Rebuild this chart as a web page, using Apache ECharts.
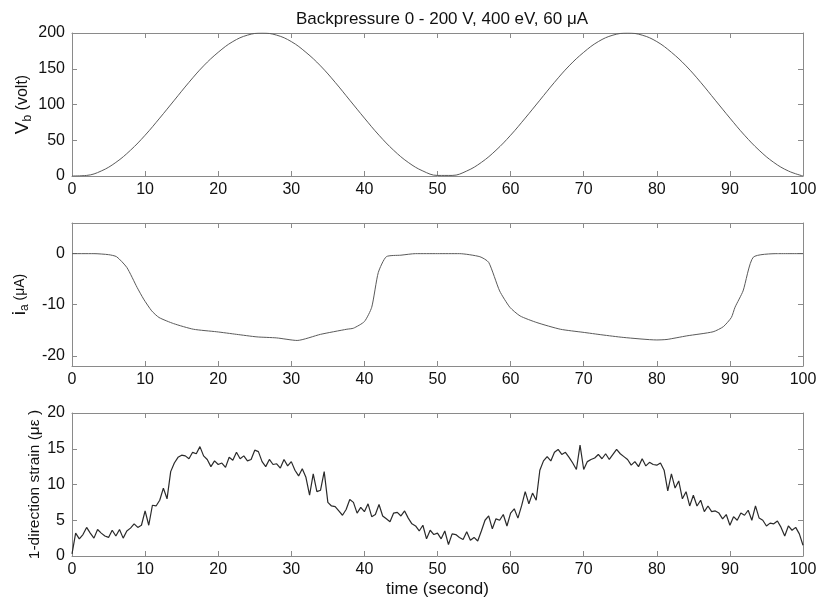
<!DOCTYPE html>
<html>
<head>
<meta charset="utf-8">
<script src="https://cdn.jsdelivr.net/npm/echarts@6/dist/echarts.min.js"></script>
<style>
  html, body { margin: 0; padding: 0; background: #fff; }
  #chart { width: 821px; height: 603px; }
</style>
</head>
<body>
<div id="chart"></div>
<script>
"use strict";

// Backpressure 0 - 200 V, 400 eV, 60 uA -- three stacked panels sharing time axis

// panel 1: backpressure voltage, sampled every 2 s
var vbTime = [0, 2, 4, 6, 8, 10, 12, 14, 16, 18, 20, 22, 24, 26, 28, 30, 32, 34, 36, 38, 40,
    42, 44, 46, 48, 50, 52, 54, 56, 58, 60, 62, 64, 66, 68, 70, 72, 74, 76, 78, 80,
    82, 84, 86, 88, 90, 92, 94, 96, 98, 100];
var vbVolt = [0, 0.8, 7, 19, 36, 57, 81, 106, 131, 154, 173, 188, 197, 200, 197, 188, 173, 154, 131, 106, 81,
    57, 36, 19, 7, 0.8, 0.8, 7, 19, 36, 57, 81, 106, 131, 154, 173, 188, 197, 200, 197, 188,
    173, 154, 131, 106, 81, 57, 36, 19, 7, 0];

// panel 2: ion current
var iaTime = [0, 3, 5, 6.1, 7.5, 8.9, 9.8, 10.9, 11.9, 13.9, 16.6, 19.8, 22.5, 25.3, 28, 30.8, 34, 37.6, 38.5, 40, 41, 41.9, 43, 45, 47,
    50, 53, 55.8, 57, 58.5, 59.9, 61.3, 63.6, 66.8, 69.9, 72.5, 75.4, 80, 81.4, 84.1, 87.7, 89.1, 90.2, 90.7, 91.8, 93.2, 96.5, 100];
var iaMicroA = [0, 0, -0.2, -0.6, -2.7, -6.6, -8.9, -11.2, -12.5, -13.7, -14.8, -15.3, -15.8, -16.3, -16.5, -17.0, -15.8, -14.8, -14.6, -13.3, -10.5, -3.7, -0.6, -0.3, 0,
    0, 0, -0.6, -1.7, -7.3, -10.5, -12.2, -13.5, -14.8, -15.4, -15.9, -16.4, -16.9, -16.8, -16.1, -15.3, -14.3, -12.5, -10.5, -7.3, -0.7, 0, 0];

// panel 3: 1-direction strain, sampled every 0.5 s from t = 0
var strainStart = 0;
var strainStep = 0.5;
var strainVals = [
    0.3, 3.2, 2.4, 3.0, 4.0, 3.2, 2.5, 3.7, 3.2, 2.8,
    2.6, 3.6, 2.8, 3.7, 2.5, 3.5, 3.9, 4.5, 4.0, 4.3,
    6.3, 4.3, 7.1, 7.0, 7.8, 9.5, 8.0, 11.8, 13.0, 13.8,
    14.1, 14.0, 13.6, 14.5, 14.3, 15.3, 14.0, 13.5, 12.5, 13.3,
    12.8, 13.0, 12.4, 13.8, 13.4, 14.5, 13.6, 14.0, 13.3, 13.5,
    14.8, 14.6, 13.2, 12.5, 13.5, 12.8, 12.9, 12.3, 13.5, 12.6,
    13.2, 12.0, 11.2, 12.2, 11.0, 8.5, 11.5, 9.0, 9.2, 11.8,
    7.5, 7.0, 6.9, 6.3, 5.7, 6.5, 7.9, 7.5, 6.0, 6.8,
    6.2, 7.3, 5.5, 5.8, 7.2, 5.6, 5.2, 4.8, 6.0, 6.1,
    5.6, 6.3, 5.3, 4.5, 4.2, 3.5, 4.3, 2.4, 3.6, 3.0,
    3.2, 2.4, 3.5, 1.6, 3.1, 3.0, 2.6, 2.3, 3.4, 2.2,
    2.6, 2.1, 3.5, 5.0, 5.6, 3.8, 5.2, 5.0, 5.8, 4.2,
    6.0, 6.6, 5.3, 7.0, 9.0, 7.3, 8.8, 7.8, 12.0, 13.3,
    13.9, 13.3, 14.5, 14.9, 14.2, 14.5, 13.8, 13.0, 12.1, 15.5,
    12.1, 13.2, 13.5, 13.7, 14.2, 13.6, 14.3, 13.5, 14.2, 14.9,
    14.3, 13.9, 13.5, 12.7, 13.2, 12.5, 13.6, 12.6, 13.1, 12.8,
    12.7, 13.0, 12.0, 9.1, 11.5, 9.5, 10.5, 8.0, 9.0, 7.0,
    8.5, 7.0, 7.8, 6.2, 7.0, 6.2, 6.3, 6.0, 5.2, 5.8,
    4.3, 5.5, 5.0, 6.0, 5.7, 6.4, 5.0, 7.0, 5.3, 5.0,
    4.2, 4.6, 4.5, 4.9, 4.0, 2.8, 4.2, 3.6, 4.0, 3.1,
    1.5
];

var iaTicks = [-20, -10, 0];

function pairs(xs, ys) {
    return ys.map(function (y, i) { return [xs[i], y]; });
}
var strainPts = strainVals.map(function (v, i) { return [strainStart + i * strainStep, v]; });

var FONT = 'Liberation Sans, Arial, sans-serif';
var TXT = '#111';
var frameColor = '#8a8a8a';
var gridTops = [33, 223, 413];
var gridH = 143;

var grids = gridTops.map(function (t) {
    return { left: 72, right: 18, top: t, height: gridH, outerBoundsMode: 'none', containLabel: false };
});

function xAx(gi, showLabel, pos) {
    return {
        type: 'value', gridIndex: gi, min: 0, max: 100, interval: 10, position: pos,
        axisLine: { show: true, onZero: false, lineStyle: { color: frameColor, width: 1 } },
        axisTick: { show: true, inside: true, length: 5, lineStyle: { color: frameColor } },
        axisLabel: { show: showLabel, color: TXT, fontSize: 16, fontFamily: FONT, margin: 6 },
        splitLine: { show: false }
    };
}

function yAx(gi, pos, showLabel, cfg) {
    var ax = {
        type: 'value', gridIndex: gi, position: pos, min: cfg.min, max: cfg.max,
        axisLine: { show: true, onZero: false, lineStyle: { color: frameColor, width: 1 } },
        axisTick: { show: true, inside: true, length: 5, lineStyle: { color: frameColor } },
        axisLabel: { show: showLabel, color: TXT, fontSize: 16, fontFamily: FONT, margin: 7 },
        splitLine: { show: false }
    };
    if (cfg.interval) ax.interval = cfg.interval;
    if (cfg.ticks) {
        ax.axisTick.customValues = cfg.ticks;
        ax.axisLabel.customValues = cfg.ticks;
    }
    if (showLabel && cfg.name) {
        ax.name = cfg.name;
        ax.nameLocation = 'middle';
        ax.nameGap = cfg.gap;
        ax.nameRotate = 90;
        ax.nameMoveOverlap = false;
        ax.nameTextStyle = { color: TXT, fontFamily: FONT, fontSize: 14, rich: cfg.rich };
    }
    return ax;
}

var subRich = {
    m: { fontSize: 19, fontFamily: FONT, color: TXT },
    s: { fontSize: 12, fontFamily: FONT, color: TXT, padding: [10, 0, 0, 0] },
    u: { fontSize: 16, fontFamily: FONT, color: TXT },
    sm: { fontSize: 14, fontFamily: FONT, color: TXT },
    st: { fontSize: 15.5, fontFamily: FONT, color: TXT }
};

var yCfg = [
    { min: 0, max: 200, interval: 50, name: '{m|V}{s|b}{u| (volt)}', gap: 38, rich: subRich },
    { min: -22, max: 6, ticks: iaTicks, name: '{m|i}{s|a}{sm| (\u03bcA)}', gap: 41, rich: subRich },
    { min: 0, max: 20, interval: 5, name: '{st|1-direction strain (\u03bc\u03b5 )}', gap: 29, rich: subRich }
];

var xAxes = [], yAxes = [];
for (var g = 0; g < 3; g++) {
    var bx = xAx(g, true, 'bottom');
    if (g === 2) {
        bx.name = 'time (second)';
        bx.nameLocation = 'middle';
        bx.nameGap = 25;
        bx.nameMoveOverlap = false;
        bx.nameTextStyle = { color: TXT, fontSize: 17, fontFamily: FONT };
    }
    xAxes.push(bx);
    xAxes.push(xAx(g, false, 'top'));
    yAxes.push(yAx(g, 'left', true, yCfg[g]));
    yAxes.push(yAx(g, 'right', false, yCfg[g]));
}

var lineSeries = [
    { data: pairs(vbTime, vbVolt), color: '#5a5a5a', smooth: 0.4, width: 1 },
    { data: pairs(iaTime, iaMicroA), color: '#5a5a5a', smooth: 0.2, width: 1 },
    { data: strainPts, color: '#2a2a2a', smooth: false, width: 1.2 }
].map(function (s, i) {
    return {
        type: 'line', xAxisIndex: i * 2, yAxisIndex: i * 2, data: s.data,
        showSymbol: false, smooth: s.smooth, animation: false,
        lineStyle: { color: s.color, width: s.width }, clip: true
    };
});

var myChart = echarts.init(document.getElementById('chart'), null, { renderer: 'canvas' });
myChart.setOption({
    animation: false,
    backgroundColor: '#fff',
    title: {
        text: 'Backpressure 0 - 200 V, 400 eV, 60 \u03bcA',
        left: 437, top: 6, textAlign: 'center',
        textStyle: { fontSize: 17, fontWeight: 'normal', color: TXT, fontFamily: FONT }
    },
    grid: grids,
    xAxis: xAxes,
    yAxis: yAxes,
    series: lineSeries
});
</script>
</body>
</html>
